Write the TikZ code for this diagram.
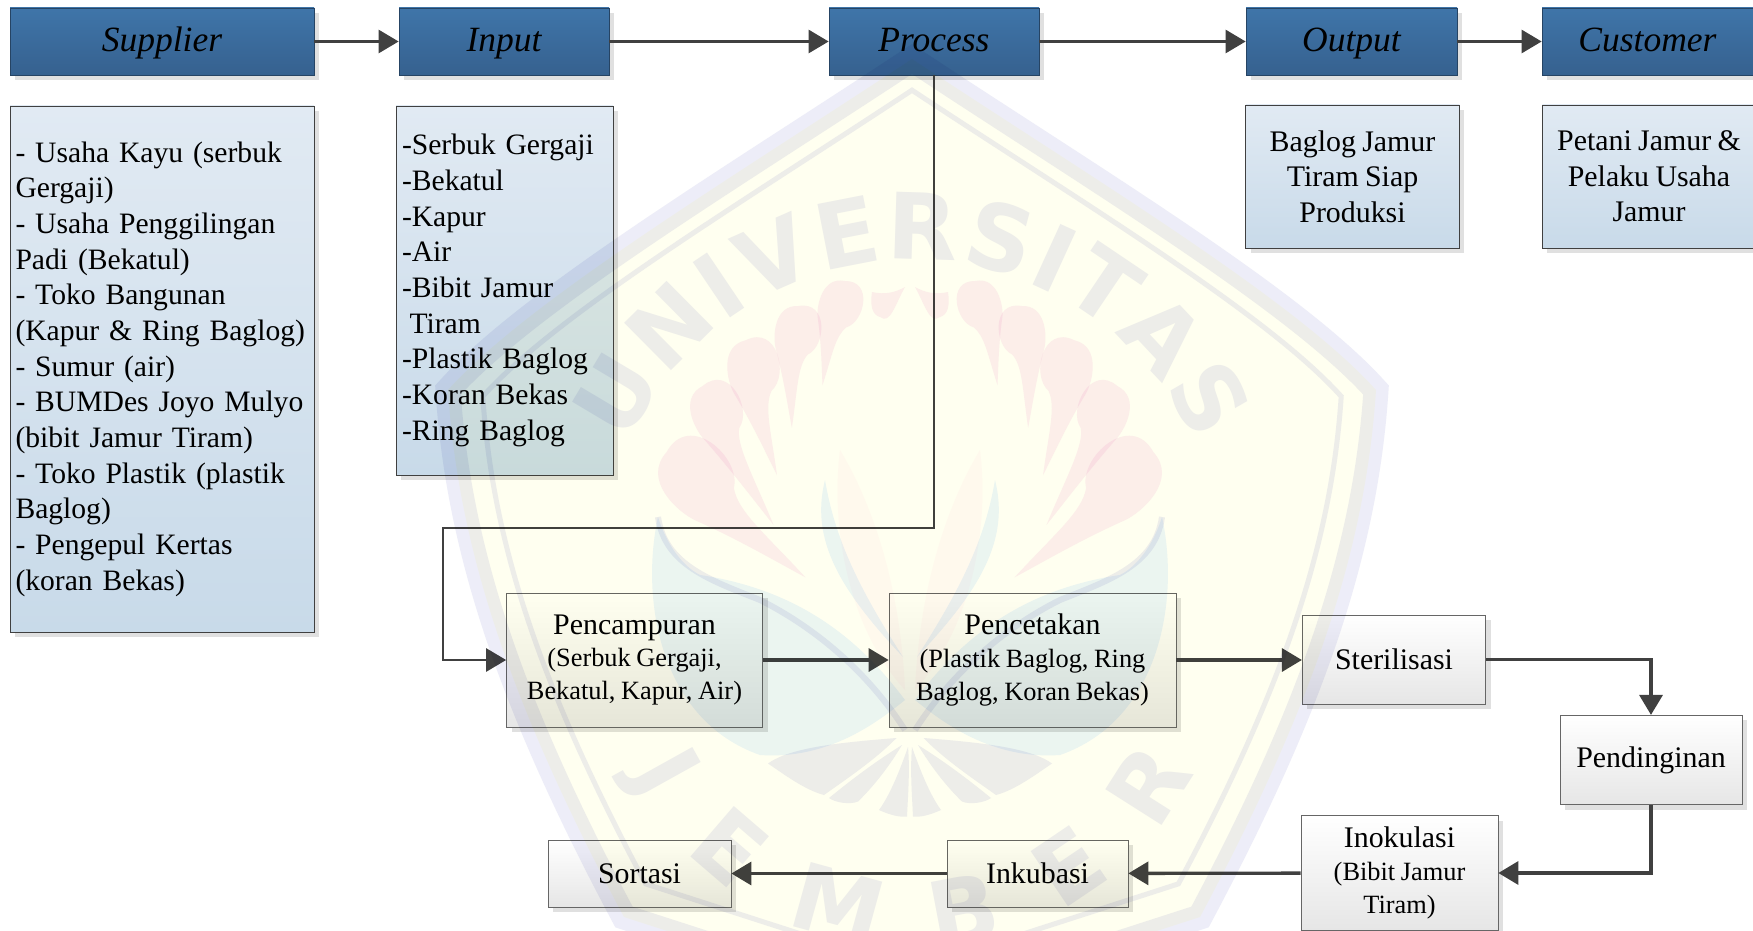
\documentclass[tikz,border=0pt]{standalone}
\usepackage{fontspec}
\setmainfont[WordSpace=0.85]{Liberation Serif}
\newfontfamily\wmsans{DejaVu Sans}
\usetikzlibrary{arrows.meta,shadows,decorations.text}

\definecolor{headtop}{HTML}{3F75A9}
\definecolor{headbot}{HTML}{36618F}
\definecolor{listtop}{HTML}{E1EAF3}
\definecolor{listbot}{HTML}{C8DAE9}
\definecolor{steptop}{HTML}{FFFFFF}
\definecolor{stepbot}{HTML}{E6E6E6}
\definecolor{linegrey}{HTML}{404040}
\definecolor{wmgrey}{HTML}{EDEDF8}
\definecolor{wmyellow}{HTML}{FFFFF0}
\definecolor{wmpink}{HTML}{FCEEF8}
\definecolor{wmteal}{HTML}{EBF5FF}
\definecolor{wmorange}{HTML}{FFF9FC}

\newcommand{\wmfont}{\wmsans\bfseries\fontsize{52}{52}\selectfont\color{wmgrey}}
\newcommand{\subsize}{\fontsize{15}{19}\selectfont}
\newcommand{\shieldpath}{(18.24,-1.18) .. controls (21.9,-3.6) and (25.9,-6.0) .. (27.52,-7.80)
    .. controls (27.3,-11.2) and (26.1,-14.4) .. (24.0,-18.34) -- (18.24,-20.2) -- (12.48,-18.34)
    .. controls (10.38,-14.4) and (9.18,-11.2) .. (8.96,-7.8)
    .. controls (10.58,-6.0) and (14.58,-3.6) .. (18.24,-1.18) -- cycle}

\begin{document}
\begin{tikzpicture}[
    shadowed/.style={drop shadow={shadow xshift=.1cm, shadow yshift=-.1cm, fill=black!12, opacity=1}},
    headbox/.style={rectangle, draw=headbot!70!black, top color=headtop, bottom color=headbot, shadowed,
        minimum height=1.34cm, inner sep=0pt, text height=16pt, text depth=4.6pt, font=\fontsize{20.2}{24}\selectfont\itshape},
    listbox/.style={rectangle, draw=linegrey, top color=listtop, bottom color=listbot, shadowed,
        inner sep=0pt, font=\fontsize{16.85}{20.3}\selectfont},
    stepbox/.style={rectangle, draw=linegrey!80, top color=steptop, bottom color=stepbot, shadowed,
        inner sep=0pt, align=center, font=\fontsize{17}{20}\selectfont},
    arrow/.style={-{Triangle[length=.4cm,width=.46cm]}, line width=1.5pt, draw=linegrey},
    arrowb/.style={arrow, line width=1.9pt}
]
    \fill[white] (0,0) rectangle (35.06,-18.62);
    \useasboundingbox (0,0) rectangle (35.06,-18.62);

    % top row
    \node[headbox, minimum width=6.08cm] (supplier) at (3.24,-.83) {Supplier};
    \node[headbox, minimum width=4.2cm] (input) at (10.08,-.83) {Input};
    \node[headbox, minimum width=4.2cm] (process) at (18.68,-.83) {Process};
    \node[headbox, minimum width=4.22cm] (output) at (27.03,-.83) {Output};
    \node[headbox, minimum width=4.22cm] (customer) at (32.95,-.83) {Customer};

    \node[listbox, minimum width=6.08cm, minimum height=10.52cm, text width=5.86cm, align=left] (supplierlist) at (3.24,-7.38)
        {- Usaha Kayu (serbuk\\Gergaji)\\- Usaha Penggilingan\\Padi (Bekatul)\\- Toko Bangunan\\(Kapur \& Ring Baglog)\\- Sumur (air)\\- BUMDes Joyo Mulyo\\(bibit Jamur Tiram)\\- Toko Plastik (plastik\\Baglog)\\- Pengepul Kertas\\(koran Bekas)};
    \node[listbox, minimum width=4.34cm, minimum height=7.38cm, text width=4.1cm, align=left] (inputlist) at (10.09,-5.81)
        {-Serbuk Gergaji\\-Bekatul\\-Kapur\\-Air\\-Bibit Jamur\\\hspace{.15cm}Tiram\\-Plastik Baglog\\-Koran Bekas\\-Ring Baglog};
    \node[listbox, minimum width=4.27cm, minimum height=2.86cm, align=center, font=\fontsize{17}{20.3}\selectfont] (outputlist) at (27.05,-3.53)
        {Baglog Jamur\\Tiram Siap\\Produksi};
    \node[listbox, minimum width=4.27cm, minimum height=2.86cm, align=center, font=\fontsize{17}{20.3}\selectfont] (customerlist) at (32.98,-3.53)
        {Petani Jamur \&\\Pelaku Usaha\\Jamur};

    % process steps
    \node[stepbox, minimum width=5.12cm, minimum height=2.68cm] (pencampuran) at (12.69,-13.2)
        {Pencampuran\\[-1.5pt]\subsize (Serbuk Gergaji,\\[-1pt]\subsize Bekatul, Kapur, Air)};
    \node[stepbox, minimum width=5.74cm, minimum height=2.68cm] (pencetakan) at (20.65,-13.2)
        {Pencetakan\\[-1.5pt]\subsize (Plastik Baglog, Ring\\[-1pt]\subsize Baglog, Koran Bekas)};
    \node[stepbox, minimum width=3.67cm, minimum height=1.78cm] (sterilisasi) at (27.88,-13.19) {Sterilisasi};
    \node[stepbox, minimum width=3.64cm, minimum height=1.79cm] (pendinginan) at (33.02,-15.2) {Pendinginan};
    \node[stepbox, minimum width=3.94cm, minimum height=2.29cm] (inokulasi) at (27.99,-17.46)
        {Inokulasi\\[-1pt]\subsize (Bibit Jamur\\[-1pt]\subsize Tiram)};
    \node[stepbox, minimum width=3.62cm, minimum height=1.34cm] (inkubasi) at (20.75,-17.47) {Inkubasi};
    \node[stepbox, minimum width=3.66cm, minimum height=1.34cm] (sortasi) at (12.79,-17.47) {Sortasi};

    \coordinate (turn) at (8.86,-10.56);

    \draw[arrow] (supplier) -- (input);
    \draw[arrow] (input) -- (process);
    \draw[arrow] (process) -- (output);
    \draw[arrow] (output) -- (customer);
    \draw[arrow] (process.south) |- (turn) |- (pencampuran.west);
    \draw[arrowb] (pencampuran) -- (pencetakan);
    \draw[arrowb] (pencetakan) -- (sterilisasi.west |- pencetakan);
    \draw[arrowb] (sterilisasi) -| (pendinginan);
    \draw[arrowb] (pendinginan) |- (inokulasi);
    \draw[arrowb] (inokulasi) -- (inkubasi);
    \draw[arrowb] (inkubasi) -- (sortasi);

    % watermark
    \begin{scope}[blend mode=multiply]
        \fill[wmyellow] \shieldpath;
        \draw[wmgrey, line width=.5cm, miter limit=10] \shieldpath;
        \begin{scope}[shift={(18.24,-9.5)}, scale=.925, shift={(-18.24,9.5)}]
            \draw[wmgrey, line width=.1cm] \shieldpath;
        \end{scope}
        \path[decorate, decoration={text along path, text={|\wmfont|UNIVERSITAS}, text align=fit to path}]
            (18.24,-11.42) ++(156:6.22) arc (156:24:6.22);
        \path[decorate, decoration={text along path, text={|\wmfont|JEMBER}, text align=fit to path}]
            (18.24,-12.7) ++(206:6.26) arc (206:334:6.26);
        \foreach \m in {1,-1} {
            \begin{scope}[shift={(18.2,0)}, xscale=\m]
                % side leaves
                \fill[wmteal] (-5.04,-10.34) .. controls (-5.4,-12) and (-5,-14.4) .. (-3,-15.1)
                    .. controls (-1.6,-15.2) and (-.6,-14.4) .. (-.1,-14) .. controls (-1,-12.8) and (-2.2,-11.8) .. (-4.2,-11.5)
                    .. controls (-4.6,-11.3) and (-4.9,-10.8) .. (-5.04,-10.34) -- cycle;
                \draw[wmgrey, line width=.12cm] (-5.04,-10.34) .. controls (-4.9,-11.3) and (-4,-11.6) .. (-3,-12)
                    .. controls (-2.2,-12.4) and (-1,-13.2) .. (-.1,-14.6);
                \fill[wmorange] (-.1,-13.8) .. controls (-1.2,-12.6) and (-1.6,-10.6) .. (-1.4,-9) .. controls (-.8,-10) and (-.2,-11.6) .. (-.1,-13.8) -- cycle;
                \fill[wmteal] (-.14,-13.14) .. controls (-1.4,-11.8) and (-2,-10.8) .. (-1.7,-9.6) .. controls (-1.5,-10.8) and (-1,-11.8) .. (-.14,-13.14) -- cycle;
                % petals
                \foreach \hx/\hy/\ang/\l/\r in {-4.32/-9.54/-42/3.0/.74, -3.9/-8.2/-63/2.58/.54, -3.16/-7.34/-77/2.22/.55, -2.26/-6.6/-93/1.96/.48, -1.4/-6.06/-102/1.68/.45} {
                    \fill[wmpink, shift={(\hx,\hy)}, rotate=\ang] (\l,0) .. controls (0.6*\l,0.15*\r) and (1.5*\r,0.1*\r) .. (1.0*\r,0.5*\r)
                        .. controls (0.6*\r,1.25*\r) and (-1.3*\r,1.25*\r) .. (-\r,0)
                        .. controls (-\r,-1.0*\r) and (0.3*\r,-\r) .. (0.8*\r,-0.85*\r)
                        .. controls (0.5*\l,-0.45*\r) and (0.8*\l,-0.2*\r) .. (\l,0) -- cycle;
                }
                \fill[wmpink] (-.76,-5.84) .. controls (-.5,-5.9) and (-.3,-5.85) .. (-.1,-5.74) .. controls (-.3,-6.1) and (-.4,-6.5) .. (-.6,-6.34) .. controls (-.76,-6.3) and (-.8,-6.1) .. (-.76,-5.84) -- cycle;
                % lower fan
                \fill[wmgrey] (-.27,-14.76) .. controls (-1.4,-14.85) and (-2.4,-14.95) .. (-2.84,-15.27) .. controls (-2.5,-15.5) and (-2.1,-15.8) .. (-1.72,-15.9) .. controls (-1.3,-15.6) and (-.7,-15.2) .. (-.27,-14.76) -- cycle;
                \fill[wmgrey] (-.16,-14.9) .. controls (-.8,-15.3) and (-1.3,-15.7) .. (-1.62,-15.96) .. controls (-1.5,-16.05) and (-1.2,-16.1) .. (-1.04,-16.03) .. controls (-.7,-15.7) and (-.4,-15.3) .. (-.16,-14.9) -- cycle;
                \fill[wmgrey] (-.04,-14.94) .. controls (-.2,-15.4) and (-.4,-15.9) .. (-.62,-16.2) .. controls (-.4,-16.3) and (-.2,-16.35) .. (-.06,-16.33) .. controls (-.04,-15.9) and (0,-15.4) .. (-.04,-14.94) -- cycle;
            \end{scope}
        }
    \end{scope}
\end{tikzpicture}
\end{document}
